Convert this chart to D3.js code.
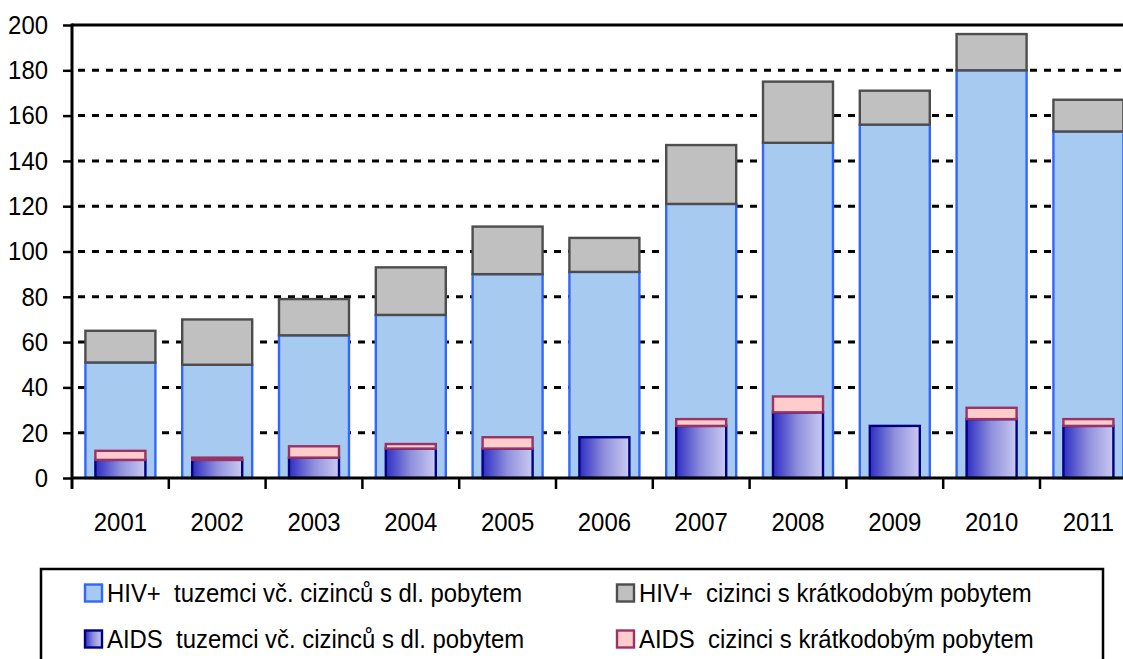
<!DOCTYPE html>
<html>
<head>
<meta charset="utf-8">
<script src="https://cdn.jsdelivr.net/npm/d3@7"></script>
<style>
    body { margin: 0; background: #fff; }
    svg { display: block; }
</style>
</head>
<body>
<div id="chart"></div>
<script>
// chart data
var years = ["2001", "2002", "2003", "2004", "2005", "2006", "2007", "2008", "2009", "2010", "2011"];
var hivDomestic = [51, 50, 63, 72, 90, 91, 121, 148, 156, 180, 153];
var hivForeign = [14, 20, 16, 21, 21, 15, 26, 27, 15, 16, 14];
var aidsDomestic = [8, 8, 9, 13, 13, 18, 23, 29, 23, 26, 23];
var aidsForeign = [4, 1, 5, 2, 5, 0, 3, 7, 0, 5, 3];
var yTicks = [0, 20, 40, 60, 80, 100, 120, 140, 160, 180, 200];
var legendLabels = [
    "HIV+  tuzemci vč. cizinců s dl. pobytem",
    "HIV+  cizinci s krátkodobým pobytem",
    "AIDS  tuzemci vč. cizinců s dl. pobytem",
    "AIDS  cizinci s krátkodobým pobytem"
];

function init() {
    var w = 1123;
    var h = 659;
    var left = 72;
    var bottom = 478;
    var top = 25;
    var band = 96.8;
    var font = "'Liberation Sans', Arial, sans-serif";
    var fsize = "26px";
    var squeeze = 0.92; // the original font is a bit condensed

    var svg = d3.select("#chart")
        .append("svg")
        .attr("width", w)
        .attr("height", h);

    // gradient for AIDS bars
    var defs = svg.append("defs");
    var grad = defs.append("linearGradient")
        .attr("id", "aidsGrad")
        .attr("x1", "0").attr("x2", "1").attr("y1", "0").attr("y2", "0");
    grad.append("stop").attr("offset", "0%").attr("stop-color", "#2e2ec4");
    grad.append("stop").attr("offset", "50%").attr("stop-color", "#9090dc");
    grad.append("stop").attr("offset", "100%").attr("stop-color", "#cacaf3");

    var xScale = d3.scaleBand()
        .domain(years)
        .range([left, left + band * years.length])
        .padding(0);

    var yScale = d3.scaleLinear()
        .domain([0, 200])
        .range([bottom, top]);

    // gridlines
    svg.append("g")
        .selectAll("line")
        .data(yTicks.filter(function(d) { return d > 0 && d < 200; }))
        .enter()
        .append("line")
        .attr("x1", left + 6)
        .attr("x2", w)
        .attr("y1", function(d) { return yScale(d); })
        .attr("y2", function(d) { return yScale(d); })
        .attr("stroke", "#000")
        .attr("stroke-width", 3)
        .attr("stroke-dasharray", "7,7");

    // top border line
    svg.append("line")
        .attr("x1", left).attr("x2", w)
        .attr("y1", yScale(200)).attr("y2", yScale(200))
        .attr("stroke", "#000")
        .attr("stroke-width", 3);

    // build stacked tables
    var hivTable = years.map(function(y, i) {
        return { year: y, dom: hivDomestic[i], fgn: hivForeign[i] };
    });
    var aidsTable = years.map(function(y, i) {
        return { year: y, dom: aidsDomestic[i], fgn: aidsForeign[i] };
    });
    var stack = d3.stack().keys(["dom", "fgn"]);
    var hivStack = stack(hivTable);
    var aidsStack = stack(aidsTable);

    var hivW = 70;
    var aidsW = 50;
    var hivStyles = [
        { fill: "#a6caf0", stroke: "#3366ff" },
        { fill: "#c0c0c0", stroke: "#4d4d4d" }
    ];
    var aidsStyles = [
        { fill: "url(#aidsGrad)", stroke: "#000080" },
        { fill: "#ffcccc", stroke: "#993366" }
    ];

    function drawStack(series, styles, bw) {
        series.forEach(function(s, k) {
            svg.append("g")
                .selectAll("rect")
                .data(s.filter(function(d) { return d[1] - d[0] > 0; }))
                .enter()
                .append("rect")
                .attr("x", function(d) { return xScale(d.data.year) + (xScale.bandwidth() - bw) / 2; })
                .attr("y", function(d) { return yScale(d[1]); })
                .attr("width", bw)
                .attr("height", function(d) { return yScale(d[0]) - yScale(d[1]); })
                .attr("fill", styles[k].fill)
                .attr("stroke", styles[k].stroke)
                .attr("stroke-width", 2.4);
        });
    }
    drawStack(hivStack, hivStyles, hivW);
    drawStack(aidsStack, aidsStyles, aidsW);

    // y axis
    var yAxis = svg.append("g")
        .attr("transform", "translate(" + left + ",0)")
        .call(d3.axisLeft(yScale).tickValues(yTicks).tickSize(9).tickPadding(15));
    yAxis.select(".domain").remove();
    yAxis.selectAll(".tick line").attr("stroke-width", 2.5);
    yAxis.selectAll("text")
        .attr("x", -24 / squeeze)
        .attr("transform", "scale(" + squeeze + ",1)")
        .attr("font-family", font)
        .attr("font-size", fsize)
        .attr("fill", "#000");
    svg.append("line")
        .attr("x1", left).attr("x2", left)
        .attr("y1", top - 1.5).attr("y2", bottom + 11)
        .attr("stroke", "#000")
        .attr("stroke-width", 3);

    // x axis
    svg.append("line")
        .attr("x1", left).attr("x2", w)
        .attr("y1", bottom).attr("y2", bottom)
        .attr("stroke", "#000")
        .attr("stroke-width", 3);
    svg.append("g")
        .selectAll("line")
        .data(years.slice(1))
        .enter()
        .append("line")
        .attr("x1", function(d) { return xScale(d); })
        .attr("x2", function(d) { return xScale(d); })
        .attr("y1", bottom)
        .attr("y2", bottom + 11)
        .attr("stroke", "#000")
        .attr("stroke-width", 2.5);
    svg.append("g")
        .selectAll("text")
        .data(years)
        .enter()
        .append("text")
        .text(function(d) { return d; })
        .attr("transform", function(d) {
            return "translate(" + (xScale(d) + xScale.bandwidth() / 2) + ",522) scale(" + squeeze + ",1)";
        })
        .attr("dy", "0.35em")
        .attr("text-anchor", "middle")
        .attr("font-family", font)
        .attr("font-size", fsize);

    // legend
    svg.append("rect")
        .attr("x", 41)
        .attr("y", 569)
        .attr("width", 1062)
        .attr("height", 110)
        .attr("fill", "none")
        .attr("stroke", "#000")
        .attr("stroke-width", 2.5);

    var legendStyles = [hivStyles[0], hivStyles[1], aidsStyles[0], aidsStyles[1]];
    var legendPos = [[84, 593], [616, 593], [84, 639], [616, 639]];
    var items = svg.append("g")
        .selectAll("g")
        .data(legendLabels)
        .enter()
        .append("g")
        .attr("transform", function(d, i) { return "translate(" + legendPos[i][0] + "," + legendPos[i][1] + ")"; });
    items.append("rect")
        .attr("x", 1)
        .attr("y", -8.5)
        .attr("width", 17)
        .attr("height", 17)
        .attr("fill", function(d, i) { return legendStyles[i].fill; })
        .attr("stroke", function(d, i) { return legendStyles[i].stroke; })
        .attr("stroke-width", 2.4);
    items.append("text")
        .text(function(d) { return d; })
        .attr("transform", "translate(23,0) scale(" + squeeze + ",1)")
        .attr("dy", "0.35em")
        .attr("font-family", font)
        .attr("font-size", fsize)
        .style("white-space", "pre");
}

window.onload = init;
</script>
</body>
</html>
